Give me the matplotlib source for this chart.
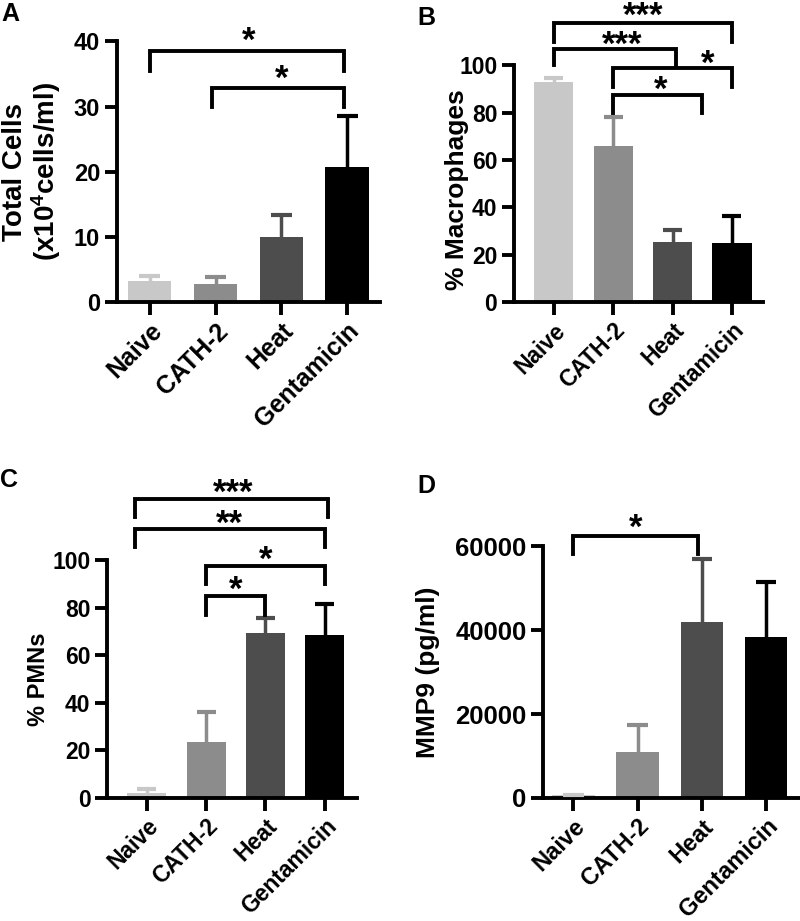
import matplotlib
matplotlib.use("Agg")
import matplotlib.pyplot as plt

plt.rcParams['font.family'] = ['Liberation Sans', 'DejaVu Sans']
plt.rcParams['font.weight'] = 'bold'
plt.rcParams['mathtext.fontset'] = 'custom'
plt.rcParams['mathtext.rm'] = 'Liberation Sans:bold'
plt.rcParams['mathtext.bf'] = 'Liberation Sans:bold'
plt.rcParams['mathtext.default'] = 'bf'

# groups shared by every panel
groups = ["Naive", "CATH-2", "Heat", "Gentamicin"]
bar_colors = ["#c8c8c8", "#8c8c8c", "#4d4d4d", "#000000"]

# A - total cells (x10^4 cells/ml)
total_cells = [3.2, 2.8, 10.0, 20.7]
total_cells_sd = [0.8, 1.1, 3.4, 7.8]

# B - % macrophages
macrophages = [93.0, 66.0, 25.5, 25.0]
macrophages_sd = [1.5, 12.0, 5.0, 11.5]

# C - % PMNs
pmns = [2.2, 23.5, 69.5, 68.5]
pmns_sd = [1.6, 12.5, 6.0, 13.0]

# D - MMP9 (pg/ml)
mmp9 = [600, 11000, 42000, 38300]
mmp9_sd = [0, 6300, 15000, 13200]

# significance brackets: (left end, right end, bar height, leg bottom, label, label x, gap px)
sig_a = [(0, 2.96, 38.5, 35.4, "*", 1.5, 12), (0.95, 2.96, 32.9, 29.9, "*", 2.0, 10)]
sig_b = [(0, 3, 118, 110, "***", 1.5, 8), (0, 2.05, 107, 100, "***", 1.15, 5),
         (1, 3, 98.7, 91, "*", 2.6, 6), (1, 2.5, 87.7, 80, "*", 1.8, 6)]
sig_c = [(-0.2, 3.05, 125.6, 118, "***", 1.45, 7), (-0.2, 3.0, 113, 105.5, "**", 1.4, 6),
         (1, 3.0, 97.5, 90, "*", 2.0, 7), (1, 2.0, 85, 77, "*", 1.5, 7)]
sig_d = [(0, 1.94, 62400, 58100, "*", 0.97, 9)]

LW = 2.8
ELW = 2.5
STAR_SIZE = 25
STAR_BASE = 18.2  # px from text bottom to asterisk ink at STAR_SIZE


def draw_panel(rect, vals, sds, ylim, yticks, ylabel, xlim, sigs, letter, letter_pos,
               ytick_size, xtick_size, ylabel_size, labelpad):
    ax = fig.add_axes(rect)
    x = list(range(len(groups)))
    ax.bar(x, vals, width=0.66, color=bar_colors, zorder=2)
    tops = [v + s for v, s in zip(vals, sds)]
    for xi, v, t, c in zip(x, vals, tops, bar_colors):
        if t > v:
            ax.vlines(xi, v, t, colors=c, linewidth=ELW, zorder=3)
        ax.hlines(t, xi - 0.16, xi + 0.16, colors=c, linewidth=ELW + 0.5, zorder=3)
    ax.set_xlim(*xlim)
    ax.set_ylim(*ylim)
    ax.set_yticks(yticks)
    ax.set_xticks(x)
    ax.set_xticklabels(groups, rotation=45, ha='right', rotation_mode='anchor',
                       fontsize=xtick_size, fontweight='bold')
    for lab in ax.get_yticklabels():
        lab.set_fontsize(ytick_size)
        lab.set_fontweight('bold')
    ax.spines['top'].set_visible(False)
    ax.spines['right'].set_visible(False)
    ax.spines['left'].set_linewidth(LW)
    ax.spines['bottom'].set_linewidth(LW)
    ax.tick_params(width=LW, length=9, pad=3)
    ax.set_ylabel(ylabel, fontsize=ylabel_size, fontweight='bold', linespacing=1.05,
                  labelpad=labelpad)
    for i, j, h, low, lab, lx, gap in sigs:
        ax.plot([i, i, j, j], [low, h, h, low], color='black', linewidth=LW,
                clip_on=False, solid_joinstyle='miter', solid_capstyle='projecting',
                zorder=4)
        off = (gap - STAR_BASE) * 72 / 100
        ax.annotate(lab, xy=(lx, h), xytext=(0, off), textcoords='offset points',
                    ha='center', va='bottom', fontsize=STAR_SIZE, fontweight='bold',
                    annotation_clip=False)
    fig.text(letter_pos[0], letter_pos[1], letter, fontsize=18, fontweight='bold',
             ha='left', va='top')
    return ax


fig = plt.figure(figsize=(8, 9.21), dpi=100)

draw_panel([0.146, 0.672, 0.329, 0.283], total_cells, total_cells_sd, (0, 40),
           [0, 10, 20, 30, 40], "Total Cells\n(x10$^{4}$cells/ml)",
           (-0.5, 3.5), sig_a, "A", (0.002, 0.998),
           ytick_size=17, xtick_size=18, ylabel_size=20, labelpad=8)

axb = draw_panel([0.6425, 0.672, 0.311, 0.257], macrophages, macrophages_sd, (0, 100),
                 [0, 20, 40, 60, 80, 100], "% Macrophages",
                 (-0.67, 3.52), sig_b, "B", (0.522, 0.993),
                 ytick_size=16.5, xtick_size=16.5, ylabel_size=19, labelpad=3)
axb.yaxis.set_label_coords(-0.18, 0.475)

draw_panel([0.134, 0.1336, 0.312, 0.2584], pmns, pmns_sd, (0, 100),
           [0, 20, 40, 60, 80, 100], "% PMNs",
           (-0.67, 3.54), sig_c, "C", (0.0, 0.492),
           ytick_size=16.5, xtick_size=16.5, ylabel_size=17, labelpad=2)

draw_panel([0.679, 0.1336, 0.321, 0.2734], mmp9, mmp9_sd, (0, 60000),
           [0, 20000, 40000, 60000], "MMP9 (pg/ml)",
           (-0.47, 3.53), sig_d, "D", (0.522, 0.485),
           ytick_size=18.5, xtick_size=17, ylabel_size=19, labelpad=11)

fig.savefig("out.png", dpi=100)
